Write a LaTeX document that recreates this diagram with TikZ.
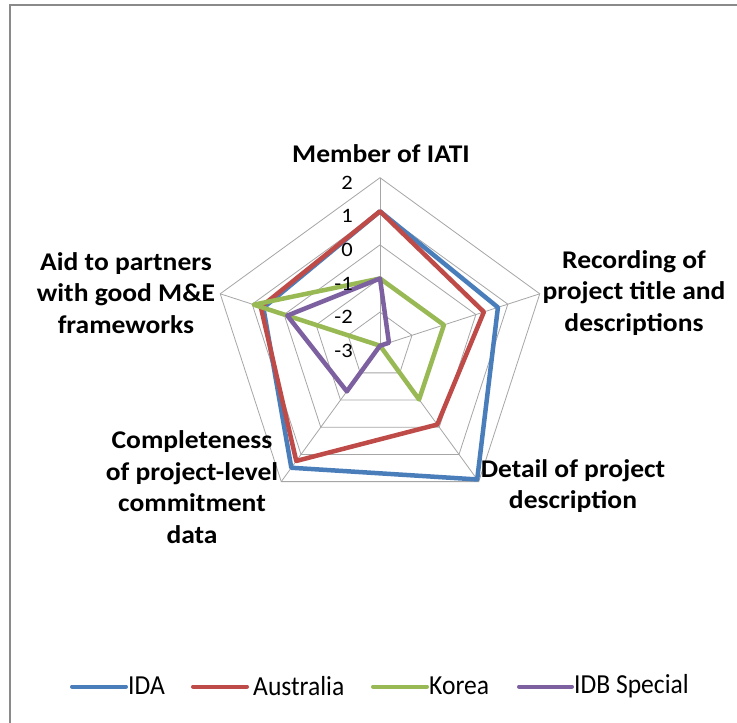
\documentclass[tikz,border=0pt]{standalone}
\usepackage{fontspec}
\setmainfont{Carlito}
\newfontfamily\catfont{Carlito}[FakeStretch=1.08]
\newfontfamily\tickfont{Carlito}[FakeStretch=1.1]
\newfontfamily\legfont{Carlito}[FakeStretch=0.93]
\definecolor{idablue}{HTML}{4A7EBB}
\definecolor{ausred}{HTML}{BE4B48}
\definecolor{korgreen}{HTML}{98B954}
\definecolor{idbpurple}{HTML}{7D60A0}
\definecolor{gridgray}{HTML}{A6A6A6}
\definecolor{framegray}{HTML}{8A8A8A}
\begin{document}
\begin{tikzpicture}[x=1bp,y=-1bp,
  gridline/.style={draw=gridgray,line width=0.8bp},
  series/.style={line width=4.5bp,line join=round},
  catlabel/.style={font=\catfont\fontsize{25.5bp}{31.5bp}\selectfont\bfseries,align=center,inner sep=0pt},
  ticklabel/.style={font=\tickfont\fontsize{20.5bp}{24bp}\selectfont,anchor=east,inner sep=0pt},
  legline/.style={line width=4bp,line cap=round},
  legtext/.style={font=\legfont\fontsize{27.5bp}{30bp}\selectfont,anchor=west,inner sep=0pt}]
\useasboundingbox (0,0) rectangle (737,723);
\fill[white] (0,0) rectangle (737,723);
\draw[framegray,line width=2bp] (10,723) -- (10,5) -- (737,5);
\def\U{33.6}
\newcommand\datapts[6]{%
  \coordinate (#1t) at (-90:{(#2+3)*\U});
  \coordinate (#1ru) at (-18:{(#3+3)*\U});
  \coordinate (#1rd) at (54:{(#4+3)*\U});
  \coordinate (#1ld) at (126:{(#5+3)*\U});
  \coordinate (#1lu) at (198:{(#6+3)*\U});}
\begin{scope}[shift={(380,345.7)}]
  \foreach \k in {1,...,5}{
    \draw[gridline] (-90:\k*\U) -- (-18:\k*\U) -- (54:\k*\U) -- (126:\k*\U) -- (198:\k*\U) -- cycle;
  }
  \coordinate (O) at (0,0);
  \foreach \a/\n in {-90/t,-18/ru,54/rd,126/ld,198/lu}{
    \coordinate (ax\n) at (\a:5*\U);
    \draw[gridline] (O) -- (ax\n);
  }
  \datapts{ida}{1}{0.69}{1.92}{1.49}{0.65}
  \datapts{aus}{1}{0.25}{-0.1}{1.24}{0.73}
  \datapts{kor}{-1}{-1}{-1.02}{-3}{0.95}
  \datapts{idb}{-1}{-2.72}{-3}{-1.32}{-0.1}
  \draw[series,idablue] (idat) -- (idaru) -- (idard) -- (idald) -- (idalu) -- cycle;
  \draw[series,ausred] (aust) -- (ausru) -- (ausrd) -- (ausld) -- (auslu) -- cycle;
  \draw[series,korgreen] (kort) -- (korru) -- (korrd) -- (korld) -- (korlu) -- cycle;
  \draw[series,idbpurple] (idbt) -- (idbru) -- (idbrd) -- (idbld) -- (idblu) -- cycle;
\end{scope}
% tick labels
\foreach \v/\n in {2/tk2,1/tk1,0/tk0,-1/tkm1,-2/tkm2,-3/tkm3}{
  \node[ticklabel] (\n) at (353,{345.7-(\v+3)*\U+5}) {\v};
}
% category labels
\node[catlabel] (catt) at (381,154) {Member of IATI};
\node[catlabel] (catru) at (634,293) {Recording of\\project title and\\descriptions};
\node[catlabel] (catrd) at (573,486) {Detail of project\\description};
\node[catlabel] (catld) at (192,487) {Completeness\\of project-level\\commitment\\data};
\node[catlabel] (catlu) at (126,293) {Aid to partners\\with good M\&E\\frameworks};
% legend
\coordinate (l1a) at (72,686.5); \coordinate (l1b) at (126,686.5);
\coordinate (l2a) at (193,686.5); \coordinate (l2b) at (247,686.5);
\coordinate (l3a) at (373,686.5); \coordinate (l3b) at (427,686.5);
\coordinate (l4a) at (519,686.5); \coordinate (l4b) at (572,686.5);
\draw[legline,idablue] (l1a) -- (l1b);
\draw[legline,ausred] (l2a) -- (l2b);
\draw[legline,korgreen] (l3a) -- (l3b);
\draw[legline,idbpurple] (l4a) -- (l4b);
\node[legtext] (t1) at (128,686) {IDA};
\node[legtext] (t2) at (253,686) {Australia};
\node[legtext] (t3) at (429,686) {Korea};
\node[legtext] (t4) at (574,686) {IDB Special};
\end{tikzpicture}
\end{document}
